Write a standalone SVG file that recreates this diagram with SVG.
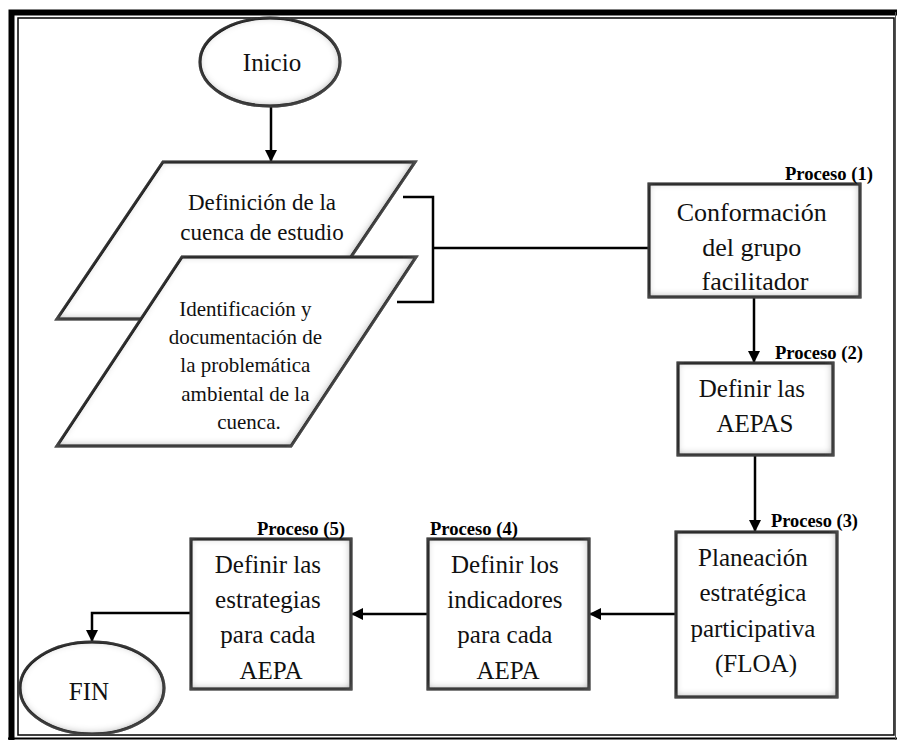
<svg xmlns="http://www.w3.org/2000/svg" width="897" height="740" viewBox="0 0 897 740">
  <style>
    .shape { fill: #ffffff; stroke: #000000; stroke-width: 3; }
    .txt { font-family: 'Liberation Serif', Tinos, 'Times New Roman', 'DejaVu Serif', serif; fill: #111111; text-anchor: middle; }
    .lbl { font-family: 'Liberation Serif', Tinos, 'Times New Roman', 'DejaVu Serif', serif; font-weight: bold; font-size: 19px; fill: #000000; }
    .wire { fill: none; stroke: #000000; stroke-width: 2.5; }
  </style>
  <defs>
    <!-- soft grey inner shadow used on every node -->
    <filter id="innerShade" x="-10%" y="-10%" width="120%" height="120%">
      <feFlood flood-color="#5a5a5a" result="c"/>
      <feComposite in="c" in2="SourceAlpha" operator="out" result="outside"/>
      <feGaussianBlur in="outside" stdDeviation="4" result="blur"/>
      <feOffset in="blur" dx="-1" dy="-1.5" result="off"/>
      <feComposite in="off" in2="SourceAlpha" operator="in" result="shade"/>
      <feMerge>
        <feMergeNode in="SourceGraphic"/>
        <feMergeNode in="shade"/>
      </feMerge>
    </filter>
    <marker id="arrow" viewBox="0 0 12 12" refX="12" refY="6" markerWidth="12" markerHeight="12" markerUnits="userSpaceOnUse" orient="auto">
      <path d="M0,0 L12,6 L0,12 Z" fill="#000000"/>
    </marker>
  </defs>

  <rect width="897" height="740" fill="#ffffff"/>

  <!-- page border: thick outer band, thin inner rule -->
  <g id="frame">
    <path d="M11.5,740 V12.5 H897" fill="none" stroke="#000000" stroke-width="6"/>
    <rect x="18" y="18" width="876" height="717" fill="none" stroke="#000000" stroke-width="1.5"/>
    <line x1="8" y1="738.5" x2="897" y2="738.5" stroke="#000000" stroke-width="2"/>
    <line x1="895.5" y1="12" x2="895.5" y2="740" stroke="#555555" stroke-width="1"/>
  </g>

  <!-- connectors -->
  <g id="connectors">
    <line class="wire" x1="271" y1="107" x2="271" y2="162" marker-end="url(#arrow)"/>
    <path class="wire" d="M403,197 H433 V302 H397"/>
    <line class="wire" x1="433" y1="248" x2="649" y2="248"/>
    <line class="wire" x1="754" y1="297" x2="754" y2="363" marker-end="url(#arrow)"/>
    <line class="wire" x1="755" y1="455" x2="755" y2="532" marker-end="url(#arrow)"/>
    <line class="wire" x1="676" y1="614" x2="589" y2="614" marker-end="url(#arrow)"/>
    <line class="wire" x1="428" y1="614" x2="351" y2="614" marker-end="url(#arrow)"/>
    <path class="wire" d="M191,613 H92 V642" marker-end="url(#arrow)"/>
  </g>

  <g id="inicio">
    <ellipse class="shape" cx="270" cy="62" rx="70" ry="44" filter="url(#innerShade)"/>
    <text class="txt" x="272" y="71" font-size="25">Inicio</text>
  </g>

  <g id="definicion-cuenca">
    <polygon class="shape" points="163,162 415,162 309,319 57,319" filter="url(#innerShade)"/>
    <text class="txt" x="262" y="210" font-size="23">Definición de la</text>
    <text class="txt" x="262" y="240" font-size="23">cuenca de estudio</text>
  </g>

  <g id="identificacion-problematica">
    <polygon class="shape" points="182,257 416,257 291,446 57,446" filter="url(#innerShade)"/>
    <text class="txt" font-size="21">
      <tspan x="248" y="316">Identificación y</tspan>
      <tspan x="248" y="344">documentación de</tspan>
      <tspan x="248" y="372">la problemática</tspan>
      <tspan x="248" y="401">ambiental de la</tspan>
      <tspan x="249" y="429">cuenca.</tspan>
    </text>
  </g>

  <g id="proceso-1">
    <rect class="shape" x="649" y="184" width="211" height="113" filter="url(#innerShade)"/>
    <text class="lbl" x="785" y="180" textLength="88" lengthAdjust="spacingAndGlyphs">Proceso (1)</text>
    <text class="txt" font-size="26">
      <tspan x="755" y="221">Conformación</tspan>
      <tspan x="755" y="256">del grupo</tspan>
      <tspan x="755" y="290">facilitador</tspan>
    </text>
  </g>

  <g id="proceso-2">
    <rect class="shape" x="678" y="363" width="155" height="92" filter="url(#innerShade)"/>
    <text class="lbl" x="775" y="359" textLength="88" lengthAdjust="spacingAndGlyphs">Proceso (2)</text>
    <text class="txt" font-size="25">
      <tspan x="755" y="397">Definir las</tspan>
      <tspan x="755" y="432">AEPAS</tspan>
    </text>
  </g>

  <g id="proceso-3">
    <rect class="shape" x="676" y="532" width="161" height="165" filter="url(#innerShade)"/>
    <text class="lbl" x="771" y="527" textLength="87" lengthAdjust="spacingAndGlyphs">Proceso (3)</text>
    <text class="txt" font-size="25">
      <tspan x="756" y="566">Planeación</tspan>
      <tspan x="756" y="601">estratégica</tspan>
      <tspan x="756" y="637">participativa</tspan>
      <tspan x="756" y="672">(FLOA)</tspan>
    </text>
  </g>

  <g id="proceso-4">
    <rect class="shape" x="428" y="539" width="161" height="150" filter="url(#innerShade)"/>
    <text class="lbl" x="430" y="535" textLength="88" lengthAdjust="spacingAndGlyphs">Proceso (4)</text>
    <text class="txt" font-size="25">
      <tspan x="508" y="573">Definir los</tspan>
      <tspan x="508" y="608">indicadores</tspan>
      <tspan x="508" y="643">para cada</tspan>
      <tspan x="508" y="679">AEPA</tspan>
    </text>
  </g>

  <g id="proceso-5">
    <rect class="shape" x="191" y="539" width="160" height="150" filter="url(#innerShade)"/>
    <text class="lbl" x="257" y="535" textLength="88" lengthAdjust="spacingAndGlyphs">Proceso (5)</text>
    <text class="txt" font-size="25">
      <tspan x="271" y="573">Definir las</tspan>
      <tspan x="271" y="608">estrategias</tspan>
      <tspan x="271" y="643">para cada</tspan>
      <tspan x="271" y="679">AEPA</tspan>
    </text>
  </g>

  <g id="fin">
    <ellipse class="shape" cx="92" cy="688" rx="72" ry="46" filter="url(#innerShade)"/>
    <text class="txt" x="89" y="700" font-size="25">FIN</text>
  </g>
</svg>
